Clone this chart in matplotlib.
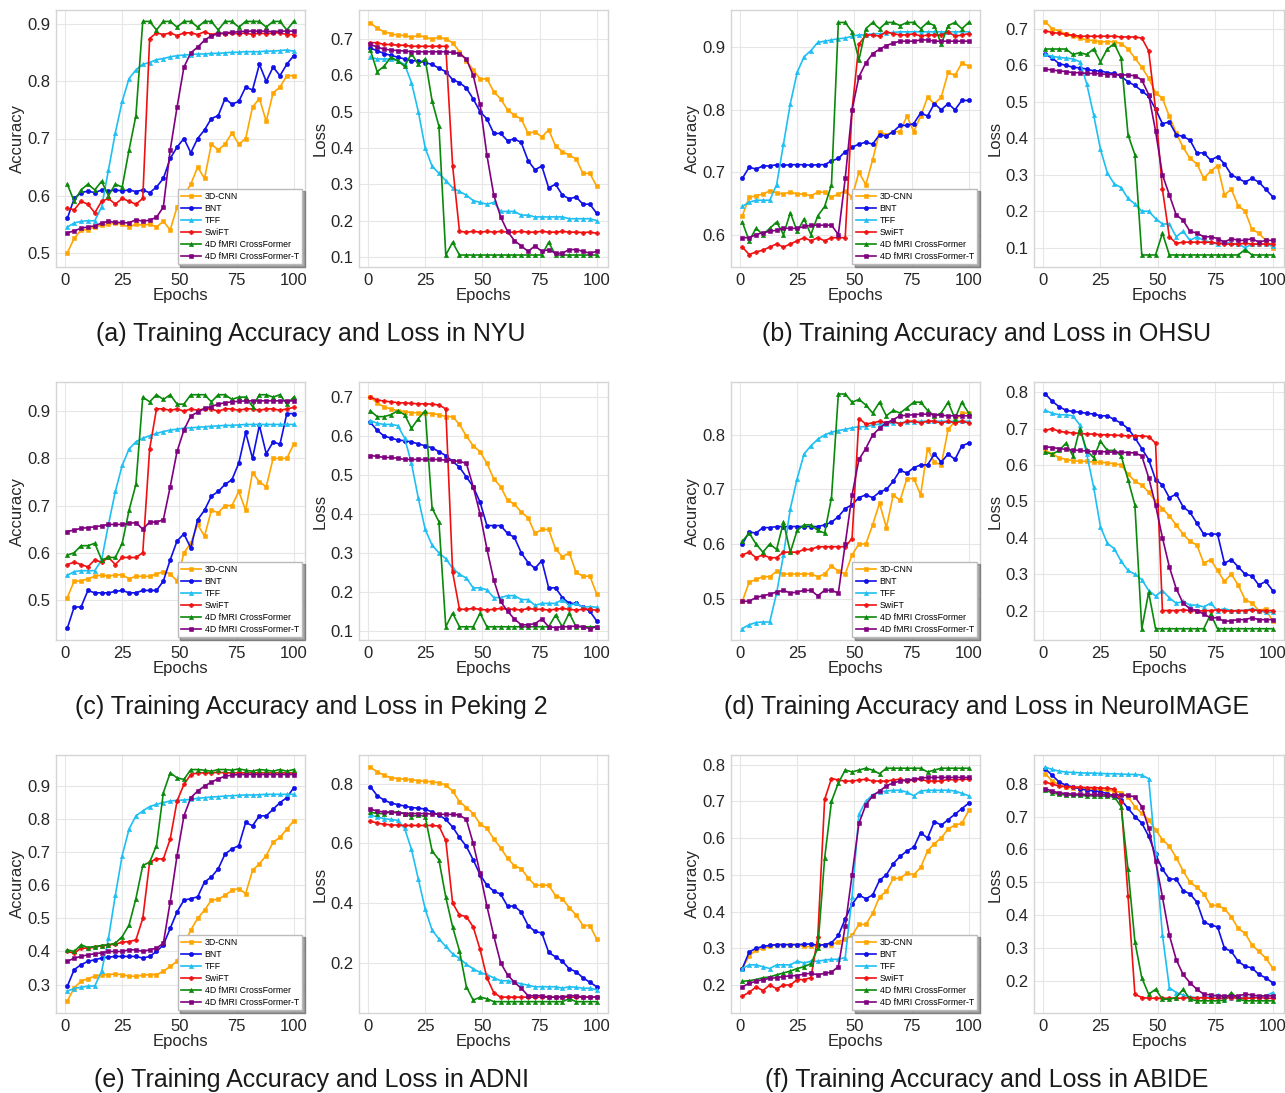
import matplotlib
matplotlib.use("Agg")
import matplotlib.pyplot as plt
from matplotlib.ticker import MultipleLocator

plt.rcParams["font.family"] = ["Liberation Sans", "DejaVu Sans"]

# ─── Data (every 3rd epoch) ───────────────────────────────────────────────────

EPOCHS = list(range(1, 101, 3))

MODELS = ["3D-CNN", "BNT", "TFF", "SwiFT", "4D fMRI CrossFormer", "4D fMRI CrossFormer-T"]
COLORS = ["#FFA500", "#1010E8", "#1EBFF2", "#F01010", "#0A8A0A", "#800080"]
MARKERS = ["s", "o", "^", "P", "^", "s"]

# NYU
nyu_acc_cnn = [0.50, 0.525, 0.54, 0.54, 0.545, 0.548, 0.55, 0.552, 0.55, 0.545, 0.55, 0.548, 0.55, 0.545, 0.555, 0.54, 0.58,
               0.60, 0.62, 0.65, 0.63, 0.69, 0.68, 0.69, 0.71, 0.69, 0.70, 0.755, 0.77, 0.73, 0.78, 0.79, 0.81, 0.81]
nyu_acc_bnt = [0.56, 0.595, 0.605, 0.608, 0.605, 0.61, 0.608, 0.61, 0.608, 0.61, 0.607, 0.61, 0.605, 0.615, 0.63, 0.665, 0.685,
               0.70, 0.675, 0.70, 0.715, 0.735, 0.74, 0.77, 0.76, 0.765, 0.79, 0.785, 0.83, 0.80, 0.825, 0.81, 0.83, 0.845]
nyu_acc_tff = [0.545, 0.552, 0.555, 0.556, 0.556, 0.58, 0.645, 0.71, 0.765, 0.805, 0.82, 0.83, 0.833, 0.838, 0.84, 0.843, 0.845,
               0.846, 0.847, 0.848, 0.848, 0.849, 0.849, 0.85, 0.851, 0.851, 0.852, 0.852, 0.852, 0.853, 0.853, 0.854, 0.855, 0.853]
nyu_acc_swift = [0.578, 0.575, 0.59, 0.585, 0.57, 0.59, 0.595, 0.585, 0.595, 0.59, 0.585, 0.595, 0.875, 0.885, 0.882, 0.885, 0.88,
                 0.885, 0.885, 0.882, 0.887, 0.882, 0.885, 0.883, 0.885, 0.883, 0.885, 0.882, 0.885, 0.883, 0.885, 0.885, 0.882, 0.882]
nyu_acc_cf = [0.62, 0.59, 0.61, 0.62, 0.61, 0.625, 0.60, 0.62, 0.615, 0.68, 0.74, 0.905, 0.905, 0.89, 0.905, 0.905, 0.895,
              0.905, 0.905, 0.895, 0.905, 0.905, 0.89, 0.905, 0.905, 0.895, 0.905, 0.905, 0.905, 0.895, 0.905, 0.905, 0.89, 0.905]
nyu_acc_cft = [0.535, 0.538, 0.543, 0.545, 0.547, 0.552, 0.555, 0.553, 0.553, 0.552, 0.558, 0.555, 0.557, 0.562, 0.58, 0.68, 0.755,
               0.825, 0.85, 0.86, 0.872, 0.88, 0.883, 0.885, 0.886, 0.887, 0.888, 0.888, 0.888, 0.888, 0.887, 0.888, 0.888, 0.888]

nyu_loss_cnn = [0.745, 0.73, 0.72, 0.715, 0.71, 0.71, 0.705, 0.71, 0.705, 0.70, 0.705, 0.70, 0.69, 0.665, 0.64, 0.615, 0.59,
                0.59, 0.555, 0.535, 0.505, 0.49, 0.48, 0.44, 0.445, 0.43, 0.45, 0.405, 0.39, 0.38, 0.37, 0.33, 0.33, 0.295]
nyu_loss_bnt = [0.675, 0.668, 0.66, 0.655, 0.65, 0.645, 0.64, 0.64, 0.635, 0.63, 0.62, 0.61, 0.588, 0.58, 0.565, 0.535, 0.50,
                0.48, 0.44, 0.44, 0.42, 0.425, 0.415, 0.365, 0.34, 0.35, 0.29, 0.30, 0.27, 0.26, 0.265, 0.245, 0.245, 0.22]
nyu_loss_tff = [0.65, 0.645, 0.645, 0.645, 0.64, 0.63, 0.58, 0.50, 0.40, 0.35, 0.33, 0.31, 0.29, 0.28, 0.27, 0.255, 0.25,
                0.245, 0.25, 0.225, 0.225, 0.225, 0.215, 0.215, 0.21, 0.21, 0.21, 0.21, 0.21, 0.205, 0.205, 0.205, 0.205, 0.20]
nyu_loss_swift = [0.69, 0.69, 0.685, 0.685, 0.683, 0.683, 0.68, 0.68, 0.68, 0.68, 0.68, 0.68, 0.35, 0.17, 0.168, 0.17, 0.168,
                  0.17, 0.168, 0.17, 0.168, 0.168, 0.17, 0.168, 0.168, 0.17, 0.168, 0.168, 0.17, 0.168, 0.168, 0.167, 0.168, 0.165]
nyu_loss_cf = [0.67, 0.61, 0.625, 0.65, 0.64, 0.625, 0.66, 0.63, 0.645, 0.53, 0.46, 0.105, 0.14, 0.105, 0.105, 0.105, 0.105,
               0.105, 0.105, 0.105, 0.105, 0.105, 0.105, 0.105, 0.105, 0.105, 0.14, 0.105, 0.105, 0.105, 0.105, 0.105, 0.105, 0.105]
nyu_loss_cft = [0.685, 0.678, 0.672, 0.67, 0.668, 0.667, 0.665, 0.665, 0.665, 0.665, 0.665, 0.665, 0.663, 0.66, 0.645, 0.60, 0.52,
                0.38, 0.27, 0.21, 0.17, 0.145, 0.13, 0.115, 0.13, 0.115, 0.12, 0.11, 0.11, 0.12, 0.12, 0.115, 0.11, 0.115]

# OHSU
ohsu_acc_cnn = [0.63, 0.66, 0.662, 0.665, 0.67, 0.667, 0.665, 0.668, 0.665, 0.665, 0.662, 0.668, 0.668, 0.66, 0.665, 0.67, 0.66,
                0.70, 0.68, 0.72, 0.765, 0.76, 0.765, 0.765, 0.79, 0.765, 0.79, 0.82, 0.81, 0.82, 0.86, 0.855, 0.875, 0.87]
ohsu_acc_bnt = [0.69, 0.708, 0.705, 0.71, 0.71, 0.712, 0.711, 0.712, 0.712, 0.712, 0.711, 0.712, 0.712, 0.718, 0.722, 0.733, 0.74,
                0.745, 0.748, 0.745, 0.76, 0.758, 0.765, 0.775, 0.775, 0.778, 0.795, 0.79, 0.81, 0.80, 0.81, 0.80, 0.815, 0.815]
ohsu_acc_tff = [0.645, 0.652, 0.655, 0.655, 0.655, 0.68, 0.745, 0.81, 0.86, 0.885, 0.895, 0.908, 0.91, 0.912, 0.914, 0.915, 0.918,
                0.92, 0.92, 0.922, 0.922, 0.923, 0.924, 0.925, 0.925, 0.925, 0.925, 0.925, 0.925, 0.925, 0.925, 0.925, 0.925, 0.925]
ohsu_acc_swift = [0.58, 0.568, 0.572, 0.575, 0.58, 0.585, 0.58, 0.585, 0.59, 0.595, 0.59, 0.595, 0.59, 0.595, 0.595, 0.595, 0.80,
                  0.905, 0.92, 0.92, 0.918, 0.925, 0.922, 0.92, 0.92, 0.922, 0.918, 0.92, 0.92, 0.92, 0.925, 0.918, 0.92, 0.922]
ohsu_acc_cf = [0.62, 0.59, 0.61, 0.60, 0.61, 0.62, 0.60, 0.635, 0.605, 0.625, 0.60, 0.63, 0.645, 0.68, 0.94, 0.94, 0.925,
               0.88, 0.93, 0.94, 0.93, 0.94, 0.94, 0.935, 0.94, 0.94, 0.93, 0.94, 0.935, 0.905, 0.935, 0.94, 0.93, 0.94]
ohsu_acc_cft = [0.595, 0.595, 0.60, 0.603, 0.605, 0.607, 0.61, 0.61, 0.61, 0.613, 0.615, 0.615, 0.615, 0.615, 0.60, 0.69, 0.80,
                0.853, 0.875, 0.89, 0.897, 0.903, 0.907, 0.91, 0.91, 0.91, 0.912, 0.912, 0.91, 0.91, 0.91, 0.91, 0.91, 0.91]

ohsu_loss_cnn = [0.72, 0.70, 0.695, 0.685, 0.68, 0.675, 0.67, 0.668, 0.665, 0.665, 0.665, 0.66, 0.645, 0.62, 0.595, 0.565, 0.525,
                 0.51, 0.46, 0.415, 0.375, 0.345, 0.33, 0.29, 0.31, 0.325, 0.245, 0.26, 0.215, 0.20, 0.15, 0.14, 0.12, 0.10]
ohsu_loss_bnt = [0.63, 0.62, 0.605, 0.60, 0.595, 0.593, 0.59, 0.585, 0.585, 0.58, 0.578, 0.57, 0.555, 0.545, 0.53, 0.515, 0.48,
                 0.44, 0.445, 0.41, 0.405, 0.395, 0.36, 0.36, 0.34, 0.35, 0.33, 0.30, 0.29, 0.28, 0.29, 0.28, 0.26, 0.24]
ohsu_loss_tff = [0.63, 0.625, 0.622, 0.62, 0.618, 0.61, 0.55, 0.465, 0.37, 0.305, 0.275, 0.265, 0.235, 0.22, 0.20, 0.20, 0.18,
                 0.165, 0.165, 0.13, 0.145, 0.12, 0.13, 0.12, 0.115, 0.11, 0.115, 0.112, 0.11, 0.10, 0.11, 0.11, 0.11, 0.105]
ohsu_loss_swift = [0.695, 0.69, 0.688, 0.685, 0.683, 0.68, 0.68, 0.68, 0.68, 0.68, 0.68, 0.678, 0.678, 0.678, 0.675, 0.64, 0.48,
                   0.26, 0.13, 0.112, 0.115, 0.115, 0.115, 0.115, 0.115, 0.112, 0.11, 0.11, 0.11, 0.112, 0.11, 0.11, 0.11, 0.11]
ohsu_loss_cf = [0.645, 0.645, 0.645, 0.645, 0.63, 0.635, 0.63, 0.645, 0.61, 0.645, 0.66, 0.62, 0.41, 0.355, 0.08, 0.08, 0.08,
                0.14, 0.08, 0.08, 0.08, 0.08, 0.08, 0.08, 0.08, 0.08, 0.08, 0.08, 0.08, 0.095, 0.08, 0.08, 0.08, 0.08]
ohsu_loss_cft = [0.59, 0.587, 0.585, 0.583, 0.58, 0.58, 0.578, 0.578, 0.577, 0.575, 0.575, 0.575, 0.573, 0.572, 0.56, 0.52, 0.42,
                 0.30, 0.245, 0.19, 0.175, 0.145, 0.14, 0.13, 0.13, 0.125, 0.115, 0.125, 0.12, 0.12, 0.125, 0.115, 0.12, 0.12]

# Peking 2
pek_acc_cnn = [0.505, 0.54, 0.54, 0.545, 0.55, 0.553, 0.55, 0.553, 0.553, 0.545, 0.55, 0.55, 0.55, 0.555, 0.56, 0.555, 0.54,
               0.60, 0.62, 0.66, 0.635, 0.69, 0.685, 0.70, 0.70, 0.73, 0.69, 0.77, 0.75, 0.74, 0.80, 0.80, 0.80, 0.83]
pek_acc_bnt = [0.44, 0.485, 0.485, 0.52, 0.515, 0.515, 0.515, 0.518, 0.52, 0.515, 0.515, 0.52, 0.52, 0.52, 0.54, 0.585, 0.625,
               0.64, 0.61, 0.67, 0.69, 0.72, 0.73, 0.745, 0.755, 0.79, 0.855, 0.80, 0.87, 0.81, 0.835, 0.83, 0.895, 0.895]
pek_acc_tff = [0.552, 0.56, 0.562, 0.562, 0.562, 0.585, 0.66, 0.73, 0.785, 0.82, 0.835, 0.843, 0.848, 0.853, 0.857, 0.86, 0.862,
               0.864, 0.865, 0.866, 0.867, 0.868, 0.869, 0.87, 0.87, 0.871, 0.872, 0.872, 0.872, 0.872, 0.872, 0.872, 0.872, 0.872]
pek_acc_swift = [0.575, 0.58, 0.575, 0.57, 0.585, 0.58, 0.59, 0.575, 0.59, 0.59, 0.59, 0.60, 0.82, 0.905, 0.905, 0.902, 0.905,
                 0.90, 0.905, 0.902, 0.905, 0.905, 0.90, 0.905, 0.905, 0.902, 0.905, 0.905, 0.902, 0.905, 0.905, 0.902, 0.905, 0.908]
pek_acc_cf = [0.595, 0.60, 0.615, 0.615, 0.62, 0.585, 0.59, 0.59, 0.62, 0.69, 0.745, 0.93, 0.92, 0.935, 0.925, 0.935, 0.915,
              0.915, 0.935, 0.935, 0.935, 0.92, 0.935, 0.935, 0.925, 0.93, 0.93, 0.91, 0.935, 0.935, 0.93, 0.935, 0.915, 0.93]
pek_acc_cft = [0.645, 0.648, 0.652, 0.653, 0.655, 0.657, 0.66, 0.66, 0.66, 0.662, 0.664, 0.65, 0.665, 0.665, 0.67, 0.74, 0.815,
               0.86, 0.89, 0.898, 0.906, 0.91, 0.915, 0.918, 0.92, 0.921, 0.922, 0.922, 0.922, 0.922, 0.922, 0.922, 0.922, 0.922]

pek_loss_cnn = [0.70, 0.685, 0.675, 0.67, 0.665, 0.663, 0.66, 0.66, 0.66, 0.658, 0.655, 0.65, 0.65, 0.63, 0.60, 0.575, 0.56,
                0.53, 0.49, 0.47, 0.435, 0.425, 0.405, 0.39, 0.35, 0.36, 0.36, 0.31, 0.29, 0.30, 0.25, 0.24, 0.24, 0.195]
pek_loss_bnt = [0.635, 0.615, 0.60, 0.595, 0.59, 0.588, 0.585, 0.58, 0.575, 0.57, 0.56, 0.55, 0.535, 0.52, 0.495, 0.47, 0.43,
                0.37, 0.37, 0.37, 0.35, 0.34, 0.30, 0.275, 0.26, 0.28, 0.21, 0.21, 0.185, 0.17, 0.17, 0.16, 0.15, 0.125]
pek_loss_tff = [0.64, 0.633, 0.63, 0.63, 0.627, 0.595, 0.53, 0.44, 0.36, 0.32, 0.30, 0.285, 0.26, 0.245, 0.235, 0.21, 0.21,
                0.205, 0.185, 0.185, 0.19, 0.19, 0.18, 0.18, 0.165, 0.17, 0.17, 0.17, 0.18, 0.165, 0.17, 0.16, 0.162, 0.16]
pek_loss_swift = [0.70, 0.693, 0.69, 0.688, 0.686, 0.685, 0.684, 0.683, 0.683, 0.682, 0.68, 0.67, 0.25, 0.155, 0.155, 0.157, 0.155,
                  0.153, 0.155, 0.157, 0.155, 0.155, 0.153, 0.157, 0.155, 0.155, 0.153, 0.155, 0.157, 0.155, 0.153, 0.155, 0.155, 0.152]
pek_loss_cf = [0.665, 0.65, 0.65, 0.655, 0.665, 0.655, 0.62, 0.645, 0.665, 0.415, 0.38, 0.11, 0.145, 0.11, 0.11, 0.11, 0.145,
               0.11, 0.11, 0.11, 0.11, 0.11, 0.11, 0.11, 0.11, 0.11, 0.11, 0.14, 0.11, 0.145, 0.11, 0.11, 0.11, 0.11]
pek_loss_cft = [0.55, 0.548, 0.545, 0.545, 0.543, 0.54, 0.54, 0.54, 0.54, 0.54, 0.54, 0.538, 0.537, 0.535, 0.53, 0.47, 0.40,
                0.31, 0.23, 0.175, 0.15, 0.13, 0.115, 0.115, 0.118, 0.13, 0.11, 0.108, 0.11, 0.11, 0.112, 0.11, 0.105, 0.11]

# NeuroIMAGE
neu_acc_cnn = [0.495, 0.53, 0.535, 0.54, 0.54, 0.55, 0.545, 0.545, 0.545, 0.545, 0.545, 0.54, 0.545, 0.56, 0.55, 0.545, 0.58,
               0.60, 0.60, 0.635, 0.675, 0.63, 0.69, 0.68, 0.72, 0.72, 0.69, 0.775, 0.75, 0.745, 0.81, 0.825, 0.84, 0.84]
neu_acc_bnt = [0.60, 0.622, 0.62, 0.63, 0.63, 0.632, 0.632, 0.632, 0.632, 0.632, 0.632, 0.632, 0.635, 0.64, 0.65, 0.665, 0.672,
               0.685, 0.69, 0.685, 0.695, 0.70, 0.715, 0.735, 0.73, 0.74, 0.745, 0.745, 0.765, 0.75, 0.765, 0.755, 0.78, 0.785]
neu_acc_tff = [0.445, 0.452, 0.456, 0.457, 0.457, 0.51, 0.58, 0.665, 0.72, 0.765, 0.78, 0.792, 0.80, 0.805, 0.808, 0.81, 0.813,
               0.815, 0.815, 0.818, 0.82, 0.82, 0.822, 0.822, 0.823, 0.824, 0.825, 0.825, 0.825, 0.825, 0.825, 0.825, 0.825, 0.825]
neu_acc_swift = [0.58, 0.585, 0.575, 0.58, 0.575, 0.575, 0.585, 0.585, 0.585, 0.59, 0.59, 0.595, 0.595, 0.595, 0.595, 0.595, 0.61,
                 0.83, 0.82, 0.822, 0.825, 0.822, 0.825, 0.82, 0.825, 0.825, 0.822, 0.825, 0.825, 0.822, 0.825, 0.822, 0.825, 0.822]
neu_acc_cf = [0.605, 0.62, 0.60, 0.585, 0.60, 0.59, 0.64, 0.585, 0.625, 0.635, 0.635, 0.625, 0.62, 0.685, 0.875, 0.875, 0.86,
              0.865, 0.855, 0.84, 0.86, 0.835, 0.845, 0.84, 0.85, 0.86, 0.86, 0.845, 0.835, 0.84, 0.86, 0.83, 0.86, 0.84]
neu_acc_cft = [0.495, 0.495, 0.502, 0.505, 0.508, 0.512, 0.515, 0.51, 0.512, 0.515, 0.515, 0.505, 0.515, 0.515, 0.51, 0.60, 0.69,
               0.755, 0.775, 0.80, 0.812, 0.822, 0.828, 0.835, 0.836, 0.837, 0.838, 0.838, 0.837, 0.836, 0.835, 0.835, 0.835, 0.835]

neu_loss_cnn = [0.64, 0.63, 0.62, 0.615, 0.612, 0.61, 0.61, 0.608, 0.607, 0.606, 0.603, 0.60, 0.575, 0.555, 0.545, 0.525, 0.50,
                0.48, 0.46, 0.435, 0.41, 0.39, 0.38, 0.33, 0.34, 0.31, 0.28, 0.30, 0.27, 0.23, 0.22, 0.20, 0.205, 0.17]
neu_loss_bnt = [0.795, 0.775, 0.76, 0.75, 0.747, 0.745, 0.742, 0.74, 0.735, 0.735, 0.725, 0.715, 0.70, 0.675, 0.645, 0.615, 0.56,
                0.545, 0.51, 0.52, 0.485, 0.47, 0.44, 0.41, 0.41, 0.41, 0.33, 0.34, 0.32, 0.30, 0.295, 0.27, 0.28, 0.255]
neu_loss_tff = [0.75, 0.742, 0.738, 0.738, 0.735, 0.71, 0.63, 0.54, 0.43, 0.385, 0.37, 0.335, 0.31, 0.30, 0.285, 0.255, 0.24,
                0.255, 0.235, 0.22, 0.225, 0.215, 0.215, 0.21, 0.22, 0.20, 0.205, 0.20, 0.20, 0.20, 0.205, 0.20, 0.195, 0.195]
neu_loss_swift = [0.695, 0.70, 0.692, 0.69, 0.688, 0.687, 0.685, 0.685, 0.683, 0.683, 0.682, 0.681, 0.68, 0.68, 0.68, 0.678, 0.66,
                  0.20, 0.20, 0.20, 0.202, 0.20, 0.198, 0.20, 0.20, 0.202, 0.20, 0.198, 0.20, 0.20, 0.202, 0.20, 0.20, 0.20]
neu_loss_cf = [0.635, 0.63, 0.64, 0.66, 0.625, 0.70, 0.64, 0.62, 0.665, 0.64, 0.64, 0.625, 0.56, 0.49, 0.15, 0.25, 0.15,
               0.15, 0.15, 0.15, 0.15, 0.15, 0.15, 0.15, 0.19, 0.15, 0.15, 0.15, 0.15, 0.15, 0.15, 0.15, 0.15, 0.15]
neu_loss_cft = [0.65, 0.648, 0.645, 0.643, 0.641, 0.64, 0.638, 0.637, 0.637, 0.636, 0.635, 0.635, 0.634, 0.633, 0.625, 0.565, 0.49,
                0.40, 0.32, 0.26, 0.22, 0.205, 0.20, 0.19, 0.18, 0.18, 0.17, 0.172, 0.175, 0.175, 0.18, 0.175, 0.175, 0.175]

# ADNI
adni_acc_cnn = [0.25, 0.29, 0.31, 0.318, 0.325, 0.33, 0.33, 0.332, 0.33, 0.325, 0.325, 0.328, 0.33, 0.33, 0.34, 0.355, 0.37,
                0.42, 0.465, 0.50, 0.525, 0.555, 0.558, 0.57, 0.585, 0.59, 0.575, 0.645, 0.665, 0.69, 0.73, 0.745, 0.77, 0.795]
adni_acc_bnt = [0.295, 0.345, 0.36, 0.37, 0.375, 0.38, 0.383, 0.385, 0.385, 0.385, 0.385, 0.38, 0.385, 0.40, 0.42, 0.47, 0.52,
                0.555, 0.56, 0.565, 0.61, 0.625, 0.65, 0.695, 0.71, 0.72, 0.79, 0.78, 0.81, 0.81, 0.83, 0.85, 0.865, 0.895]
adni_acc_tff = [0.28, 0.288, 0.292, 0.295, 0.296, 0.34, 0.44, 0.57, 0.69, 0.77, 0.81, 0.825, 0.838, 0.845, 0.85, 0.855, 0.857,
                0.858, 0.86, 0.863, 0.865, 0.867, 0.868, 0.87, 0.871, 0.872, 0.873, 0.873, 0.874, 0.875, 0.875, 0.875, 0.875, 0.875]
adni_acc_swift = [0.40, 0.395, 0.41, 0.41, 0.413, 0.418, 0.42, 0.422, 0.428, 0.43, 0.435, 0.50, 0.67, 0.68, 0.68, 0.74, 0.855,
                  0.905, 0.935, 0.94, 0.94, 0.94, 0.942, 0.94, 0.94, 0.94, 0.94, 0.94, 0.94, 0.94, 0.94, 0.94, 0.94, 0.94]
adni_acc_cf = [0.405, 0.40, 0.42, 0.412, 0.415, 0.418, 0.42, 0.425, 0.445, 0.48, 0.56, 0.66, 0.67, 0.72, 0.88, 0.94, 0.925,
               0.92, 0.95, 0.95, 0.948, 0.945, 0.95, 0.95, 0.948, 0.952, 0.948, 0.945, 0.95, 0.948, 0.945, 0.95, 0.945, 0.95]
adni_acc_cft = [0.37, 0.38, 0.385, 0.39, 0.393, 0.396, 0.40, 0.40, 0.40, 0.405, 0.405, 0.40, 0.405, 0.41, 0.425, 0.55, 0.69,
                0.81, 0.865, 0.885, 0.90, 0.912, 0.922, 0.93, 0.933, 0.935, 0.935, 0.935, 0.935, 0.935, 0.935, 0.935, 0.935, 0.935]

adni_loss_cnn = [0.855, 0.84, 0.828, 0.82, 0.817, 0.815, 0.813, 0.81, 0.808, 0.806, 0.803, 0.795, 0.775, 0.74, 0.72, 0.70, 0.665,
                 0.65, 0.615, 0.585, 0.55, 0.525, 0.515, 0.485, 0.46, 0.46, 0.46, 0.425, 0.415, 0.385, 0.36, 0.325, 0.325, 0.28]
adni_loss_bnt = [0.79, 0.76, 0.745, 0.735, 0.73, 0.725, 0.72, 0.718, 0.715, 0.705, 0.695, 0.68, 0.655, 0.62, 0.59, 0.545, 0.495,
                 0.46, 0.44, 0.43, 0.39, 0.39, 0.37, 0.325, 0.305, 0.30, 0.235, 0.22, 0.205, 0.18, 0.17, 0.15, 0.135, 0.12]
adni_loss_tff = [0.695, 0.688, 0.683, 0.68, 0.677, 0.65, 0.58, 0.48, 0.38, 0.31, 0.28, 0.255, 0.23, 0.215, 0.195, 0.18, 0.168,
                 0.16, 0.15, 0.14, 0.14, 0.135, 0.13, 0.125, 0.12, 0.12, 0.12, 0.12, 0.115, 0.12, 0.118, 0.115, 0.115, 0.11]
adni_loss_swift = [0.675, 0.668, 0.664, 0.662, 0.661, 0.66, 0.66, 0.66, 0.66, 0.66, 0.658, 0.61, 0.40, 0.36, 0.355, 0.32, 0.245,
                   0.15, 0.10, 0.085, 0.085, 0.085, 0.085, 0.085, 0.085, 0.085, 0.085, 0.085, 0.085, 0.085, 0.085, 0.085, 0.085, 0.085]
adni_loss_cf = [0.705, 0.70, 0.70, 0.705, 0.705, 0.70, 0.69, 0.695, 0.69, 0.575, 0.545, 0.42, 0.32, 0.24, 0.12, 0.075, 0.085,
                0.08, 0.07, 0.07, 0.07, 0.07, 0.07, 0.07, 0.07, 0.07, 0.07, 0.07, 0.07, 0.08, 0.07, 0.07, 0.07, 0.07]
adni_loss_cft = [0.715, 0.708, 0.705, 0.705, 0.702, 0.70, 0.70, 0.70, 0.70, 0.698, 0.698, 0.697, 0.697, 0.695, 0.68, 0.60, 0.50,
                 0.39, 0.29, 0.20, 0.16, 0.135, 0.115, 0.09, 0.09, 0.09, 0.085, 0.085, 0.085, 0.09, 0.09, 0.085, 0.085, 0.085]

# ABIDE
abide_acc_cnn = [0.245, 0.28, 0.295, 0.30, 0.305, 0.31, 0.31, 0.31, 0.31, 0.305, 0.305, 0.308, 0.31, 0.31, 0.318, 0.325, 0.335,
                 0.365, 0.365, 0.395, 0.44, 0.455, 0.49, 0.49, 0.505, 0.50, 0.52, 0.565, 0.585, 0.60, 0.625, 0.635, 0.64, 0.675]
abide_acc_bnt = [0.245, 0.29, 0.30, 0.305, 0.308, 0.31, 0.31, 0.31, 0.31, 0.311, 0.312, 0.308, 0.31, 0.315, 0.335, 0.38, 0.42,
                 0.445, 0.435, 0.445, 0.485, 0.50, 0.53, 0.55, 0.565, 0.575, 0.615, 0.60, 0.645, 0.635, 0.65, 0.665, 0.68, 0.695]
abide_acc_tff = [0.245, 0.255, 0.255, 0.25, 0.245, 0.255, 0.255, 0.255, 0.265, 0.26, 0.265, 0.265, 0.268, 0.27, 0.27, 0.275, 0.44,
                 0.665, 0.70, 0.718, 0.725, 0.728, 0.73, 0.73, 0.725, 0.715, 0.728, 0.73, 0.73, 0.73, 0.73, 0.728, 0.722, 0.715]
abide_acc_swift = [0.17, 0.18, 0.195, 0.185, 0.20, 0.19, 0.20, 0.20, 0.215, 0.215, 0.22, 0.33, 0.705, 0.762, 0.758, 0.755, 0.755,
                   0.758, 0.76, 0.755, 0.755, 0.755, 0.758, 0.76, 0.755, 0.758, 0.76, 0.755, 0.755, 0.755, 0.76, 0.758, 0.76, 0.76]
abide_acc_cf = [0.21, 0.212, 0.215, 0.22, 0.222, 0.228, 0.233, 0.238, 0.245, 0.25, 0.258, 0.30, 0.545, 0.70, 0.75, 0.785, 0.78,
                0.785, 0.79, 0.785, 0.775, 0.79, 0.79, 0.79, 0.79, 0.79, 0.79, 0.78, 0.785, 0.79, 0.79, 0.79, 0.79, 0.79]
abide_acc_cft = [0.195, 0.205, 0.21, 0.215, 0.218, 0.22, 0.223, 0.225, 0.226, 0.23, 0.232, 0.228, 0.232, 0.235, 0.25, 0.36, 0.50,
                 0.64, 0.69, 0.715, 0.728, 0.742, 0.75, 0.755, 0.758, 0.76, 0.763, 0.765, 0.765, 0.765, 0.765, 0.765, 0.765, 0.765]

abide_loss_cnn = [0.83, 0.808, 0.797, 0.79, 0.787, 0.785, 0.785, 0.783, 0.78, 0.78, 0.778, 0.773, 0.76, 0.73, 0.71, 0.69, 0.66,
                  0.63, 0.61, 0.575, 0.535, 0.50, 0.485, 0.465, 0.43, 0.43, 0.42, 0.395, 0.36, 0.345, 0.31, 0.29, 0.27, 0.24]
abide_loss_bnt = [0.845, 0.825, 0.805, 0.795, 0.79, 0.785, 0.78, 0.778, 0.775, 0.77, 0.762, 0.75, 0.725, 0.70, 0.68, 0.64, 0.585,
                  0.54, 0.51, 0.51, 0.475, 0.465, 0.44, 0.38, 0.37, 0.365, 0.30, 0.29, 0.26, 0.245, 0.24, 0.22, 0.21, 0.195]
abide_loss_tff = [0.85, 0.843, 0.838, 0.835, 0.834, 0.833, 0.832, 0.832, 0.831, 0.83, 0.83, 0.829, 0.828, 0.828, 0.826, 0.815, 0.59,
                  0.34, 0.18, 0.165, 0.158, 0.152, 0.15, 0.15, 0.152, 0.158, 0.15, 0.15, 0.15, 0.15, 0.15, 0.152, 0.155, 0.165]
abide_loss_swift = [0.805, 0.798, 0.793, 0.79, 0.79, 0.789, 0.788, 0.788, 0.787, 0.786, 0.783, 0.745, 0.46, 0.16, 0.15, 0.148, 0.148,
                    0.148, 0.148, 0.148, 0.148, 0.15, 0.148, 0.15, 0.148, 0.148, 0.148, 0.15, 0.148, 0.148, 0.148, 0.15, 0.148, 0.148]
abide_loss_cf = [0.78, 0.772, 0.768, 0.765, 0.765, 0.764, 0.763, 0.763, 0.762, 0.762, 0.76, 0.73, 0.54, 0.32, 0.21, 0.16, 0.175,
                 0.145, 0.145, 0.15, 0.175, 0.145, 0.14, 0.14, 0.14, 0.14, 0.142, 0.165, 0.145, 0.14, 0.14, 0.14, 0.14, 0.14]
abide_loss_cft = [0.785, 0.777, 0.772, 0.77, 0.768, 0.768, 0.767, 0.767, 0.767, 0.766, 0.766, 0.765, 0.764, 0.76, 0.73, 0.665, 0.565,
                  0.455, 0.34, 0.265, 0.22, 0.195, 0.175, 0.16, 0.158, 0.155, 0.155, 0.155, 0.155, 0.16, 0.158, 0.155, 0.155, 0.155]

CAPTIONS = [
    "(a) Training Accuracy and Loss in NYU",
    "(b) Training Accuracy and Loss in OHSU",
    "(c) Training Accuracy and Loss in Peking 2",
    "(d) Training Accuracy and Loss in NeuroIMAGE",
    "(e) Training Accuracy and Loss in ADNI",
    "(f) Training Accuracy and Loss in ABIDE",
]

ACC = [
    [nyu_acc_cnn, nyu_acc_bnt, nyu_acc_tff, nyu_acc_swift, nyu_acc_cf, nyu_acc_cft],
    [ohsu_acc_cnn, ohsu_acc_bnt, ohsu_acc_tff, ohsu_acc_swift, ohsu_acc_cf, ohsu_acc_cft],
    [pek_acc_cnn, pek_acc_bnt, pek_acc_tff, pek_acc_swift, pek_acc_cf, pek_acc_cft],
    [neu_acc_cnn, neu_acc_bnt, neu_acc_tff, neu_acc_swift, neu_acc_cf, neu_acc_cft],
    [adni_acc_cnn, adni_acc_bnt, adni_acc_tff, adni_acc_swift, adni_acc_cf, adni_acc_cft],
    [abide_acc_cnn, abide_acc_bnt, abide_acc_tff, abide_acc_swift, abide_acc_cf, abide_acc_cft],
]
LOSS = [
    [nyu_loss_cnn, nyu_loss_bnt, nyu_loss_tff, nyu_loss_swift, nyu_loss_cf, nyu_loss_cft],
    [ohsu_loss_cnn, ohsu_loss_bnt, ohsu_loss_tff, ohsu_loss_swift, ohsu_loss_cf, ohsu_loss_cft],
    [pek_loss_cnn, pek_loss_bnt, pek_loss_tff, pek_loss_swift, pek_loss_cf, pek_loss_cft],
    [neu_loss_cnn, neu_loss_bnt, neu_loss_tff, neu_loss_swift, neu_loss_cf, neu_loss_cft],
    [adni_loss_cnn, adni_loss_bnt, adni_loss_tff, adni_loss_swift, adni_loss_cf, adni_loss_cft],
    [abide_loss_cnn, abide_loss_bnt, abide_loss_tff, abide_loss_swift, abide_loss_cf, abide_loss_cft],
]

# axis ranges as seen in the reference frames
ACC_YLIM = [(0.475, 0.925), (0.548, 0.960), (0.415, 0.962), (0.424, 0.897), (0.214, 0.994), (0.124, 0.826)]
LOSS_YLIM = [(0.072, 0.780), (0.047, 0.752), (0.076, 0.739), (0.119, 0.828), (0.032, 0.896), (0.103, 0.887)]
LOSS_STEP = [0.1, 0.1, 0.1, 0.1, 0.2, 0.1]

# ─── Layout ───────────────────────────────────────────────────────────────────

W, H = 1285, 1093
fig = plt.figure(figsize=(W / 100, H / 100), dpi=100)
fig.patch.set_facecolor("white")

COLS = [(56, 305, 359, 608), (731, 980, 1034, 1284)]
ROWS = [(10, 267), (382, 640), (755, 1013)]
CAP_X = [311, 987]
CAP_Y = [334, 707, 1080]


def px_axes(l, t, r, b):
    return fig.add_axes([l / W, 1 - b / H, (r - l) / W, (b - t) / H])


def style(ax, ylim, step):
    ax.set_facecolor("white")
    ax.set_xlim(-3.95, 104.95)
    ax.set_ylim(*ylim)
    ax.xaxis.set_major_locator(MultipleLocator(25))
    ax.yaxis.set_major_locator(MultipleLocator(step))
    ax.grid(True, color="#e6e6e6", lw=0.8)
    ax.set_axisbelow(True)
    for s in ax.spines.values():
        s.set_color("#d5d5d5")
        s.set_linewidth(1.0)
    ax.tick_params(length=0, labelsize=12, colors="#262626", pad=4)
    ax.set_xlabel("Epochs", fontsize=12, color="#262626", labelpad=0)


def draw(ax, series):
    for name, vals, c, m in zip(MODELS, series, COLORS, MARKERS):
        if len(vals) != len(EPOCHS):
            raise ValueError(f"{name}: {len(vals)} values")
        ms = 3.4 if m == "s" else 3.1
        ax.plot(EPOCHS, vals, color=c, marker=m, markersize=ms, lw=1.2,
                markeredgewidth=0.4, label=name)


for i in range(6):
    r, c = divmod(i, 2)
    al, ar, ll, lr = COLS[c]
    t, b = ROWS[r]

    ax1 = px_axes(al, t, ar, b)
    draw(ax1, ACC[i])
    style(ax1, ACC_YLIM[i], 0.1)
    ax1.set_ylabel("Accuracy", fontsize=12, color="#262626", labelpad=2)
    ax1.legend(loc="lower right", fontsize=6.3, frameon=True, shadow=True,
               fancybox=False, framealpha=1, edgecolor="#bbbbbb",
               borderpad=0.35, labelspacing=0.35, handlelength=2.3,
               handletextpad=0.45, borderaxespad=0.35)

    ax2 = px_axes(ll, t, lr, b)
    draw(ax2, LOSS[i])
    style(ax2, LOSS_YLIM[i], LOSS_STEP[i])
    ax2.set_ylabel("Loss", fontsize=12, color="#262626", labelpad=2)

    fig.text(CAP_X[c] / W, 1 - CAP_Y[r] / H, CAPTIONS[i], ha="center",
             va="center", fontsize=18, color="#1a1a1a")

fig.savefig("out.png", dpi=100, facecolor="white")
